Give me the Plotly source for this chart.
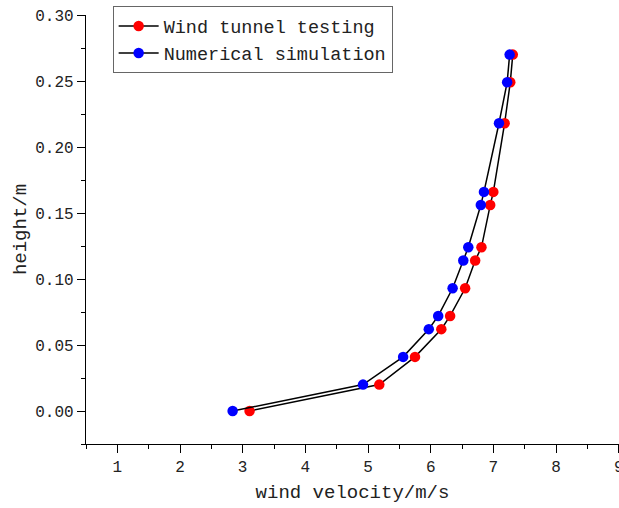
import plotly.graph_objects as go

heights = [0.0, 0.020, 0.041, 0.062, 0.072, 0.093, 0.114, 0.124, 0.156, 0.166, 0.218, 0.249, 0.270]
wind_tunnel = [3.11, 5.18, 5.75, 6.17, 6.31, 6.55, 6.71, 6.81, 6.95, 7.00, 7.18, 7.27, 7.31]
numerical = [2.84, 4.92, 5.56, 5.97, 6.12, 6.35, 6.52, 6.60, 6.80, 6.85, 7.09, 7.22, 7.26]

FONT = "Liberation Mono"

fig = go.Figure()
fig.add_trace(go.Scatter(
    x=wind_tunnel, y=heights, mode="lines+markers", name="Wind tunnel testing",
    line=dict(color="black", width=1.5),
    marker=dict(color="#ff0000", size=10.5, line=dict(width=0)),
))
fig.add_trace(go.Scatter(
    x=numerical, y=heights, mode="lines+markers", name="Numerical simulation",
    line=dict(color="black", width=1.5),
    marker=dict(color="#0000ff", size=10.5, line=dict(width=0)),
))

axis_common = dict(
    showgrid=False, zeroline=False, showline=True, linecolor="black", linewidth=1.3,
    ticks="outside", ticklen=8, tickwidth=1.3, tickcolor="black", automargin=False,
    tickfont=dict(family=FONT, size=16, color="#222"),
)

fig.update_layout(
    width=619, height=508,
    margin=dict(l=86, r=0, t=15, b=64),
    paper_bgcolor="white", plot_bgcolor="white",
    font=dict(family=FONT, color="#222"),
    showlegend=True,
    legend=dict(
        x=0.05, y=1.02, xanchor="left", yanchor="top",
        bgcolor="white", bordercolor="#666", borderwidth=1,
        font=dict(family=FONT, size=18.5, color="#222"),
        tracegroupgap=0, itemwidth=40,
    ),
    xaxis=dict(
        **axis_common, range=[0.5, 9.005], tick0=0, dtick=1, ticklabeloverflow="allow",
        minor=dict(ticks="outside", ticklen=4, dtick=0.5, tick0=0, tickcolor="black", tickwidth=1.3),
        title=dict(text="wind velocity/m/s", font=dict(family=FONT, size=19, color="#222"), standoff=8),
    ),
    yaxis=dict(
        **axis_common, range=[-0.025, 0.30], tick0=0, dtick=0.05, tickformat=".2f",
        minor=dict(ticks="outside", ticklen=4, dtick=0.025, tick0=0, tickcolor="black", tickwidth=1.3),
        title=dict(text="height/m", font=dict(family=FONT, size=19, color="#222"), standoff=3),
    ),
)

fig.write_html("out.html", config={"displayModeBar": False},
               post_script="document.body.style.margin='0px';")
